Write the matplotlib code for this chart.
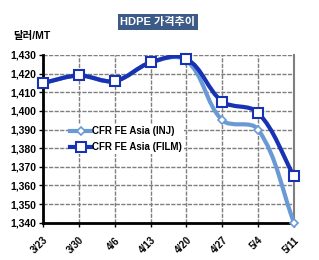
import matplotlib
matplotlib.use("Agg")
import matplotlib.pyplot as plt
from matplotlib.path import Path
from matplotlib.patches import PathPatch
from matplotlib.lines import Line2D
import numpy as np

plt.rcParams['font.family'] = ['Liberation Sans', 'Noto Sans CJK KR', 'DejaVu Sans']

dates = ['3/23', '3/30', '4/6', '4/13', '4/20', '4/27', '5/4', '5/11']
inj = [1415, 1419, 1416, 1426, 1427, 1395, 1390, 1340]
film = [1415, 1419, 1416, 1426, 1428, 1405, 1399, 1365]
yticks = [1340, 1350, 1360, 1370, 1380, 1390, 1400, 1410, 1420, 1430]

C_INJ = '#6a9ad6'
C_FILM = '#1832b4'

fig = plt.figure(figsize=(3.19, 2.60), dpi=100)
ax = fig.add_axes([43/319, 1-222.7/260, (294-43)/319, (222.7-55)/260])

x = np.arange(len(dates))
ax.set_xlim(0, 7)
ax.set_ylim(1340, 1430)


def smooth_path(xs, ys):
    # smoothed line: tangents from neighbours, handle lengths from segment lengths (display space)
    data = np.column_stack([xs, ys]).astype(float)
    pts = ax.transData.transform(data)
    n = len(pts)
    tans = []
    for i in range(n):
        p0 = pts[i - 1] if i > 0 else pts[i]
        p2 = pts[i + 1] if i + 1 < n else pts[i]
        d = p2 - p0
        tans.append(d / np.hypot(*d))
    verts = [pts[0]]
    codes = [Path.MOVETO]
    for i in range(n - 1):
        L = np.hypot(*(pts[i + 1] - pts[i]))
        c1 = pts[i] + tans[i] * L / 3.0
        c2 = pts[i + 1] - tans[i + 1] * L / 3.0
        verts += [c1, c2, pts[i + 1]]
        codes += [Path.CURVE4] * 3
    inv = ax.transData.inverted()
    return Path(inv.transform(np.array(verts)), codes)


ax.add_patch(PathPatch(smooth_path(x, inj), fill=False, edgecolor=C_INJ, lw=3, zorder=3))
ax.add_patch(PathPatch(smooth_path(x, film), fill=False, edgecolor=C_FILM, lw=3, zorder=4))
ax.plot(x, inj, linestyle='none', marker='D', ms=4, mfc='white', mec=C_INJ, mew=1.2, zorder=5, clip_on=False)
ax.plot(x, film, linestyle='none', marker='s', ms=7, mfc='white', mec=C_FILM, mew=1.5, zorder=6, clip_on=False)

ax.set_yticks(yticks)
ax.set_yticklabels([f"{v:,}" for v in yticks], fontsize=7.5, fontweight='bold')
ax.set_xticks(x)
ax.set_xticklabels(dates, rotation=45, ha='right', rotation_mode='anchor', fontsize=7, fontweight='bold')
ax.tick_params(axis='both', direction='out', length=3, width=1, color='black', pad=2)
ax.tick_params(axis='x', pad=6)

ax.grid(True, color='#7f7f7f', linestyle=(0, (3, 1)), lw=1)
ax.set_axisbelow(True)
for s in ['left', 'bottom']:
    ax.spines[s].set_linewidth(2)
    ax.spines[s].set_color('black')
ax.spines['top'].set_visible(False)
ax.spines['right'].set_color('#7f7f7f')
ax.spines['right'].set_linewidth(1.5)

handles = [
    Line2D([], [], color=C_INJ, lw=3, marker='D', ms=4, mfc='white', mec=C_INJ, mew=1.2),
    Line2D([], [], color=C_FILM, lw=3, marker='s', ms=7, mfc='white', mec=C_FILM, mew=1.5),
]
leg = ax.legend(handles, ['CFR FE Asia (INJ)', 'CFR FE Asia (FILM)'],
                loc='upper left', bbox_to_anchor=((68-43)/251, (222.7-124)/167.7),
                frameon=True, fancybox=False, edgecolor='none', facecolor='white', framealpha=1,
                prop={'size': 7, 'weight': 'bold'}, handlelength=2.2, handletextpad=0.1,
                borderpad=0.2, labelspacing=0.65, borderaxespad=0)
leg.set_zorder(10)

fig.text(158/319, 1-22/260, 'HDPE 가격추이', ha='center', va='center', color='white',
         fontsize=8, fontweight='bold',
         bbox=dict(boxstyle='square,pad=0.25', facecolor='#3c5a86', edgecolor='none'))
fig.text(13/319, 1-36/260, '달러/MT', ha='left', va='center', fontsize=7.5, fontweight='bold')

fig.savefig('out.png', dpi=100, facecolor='white')
